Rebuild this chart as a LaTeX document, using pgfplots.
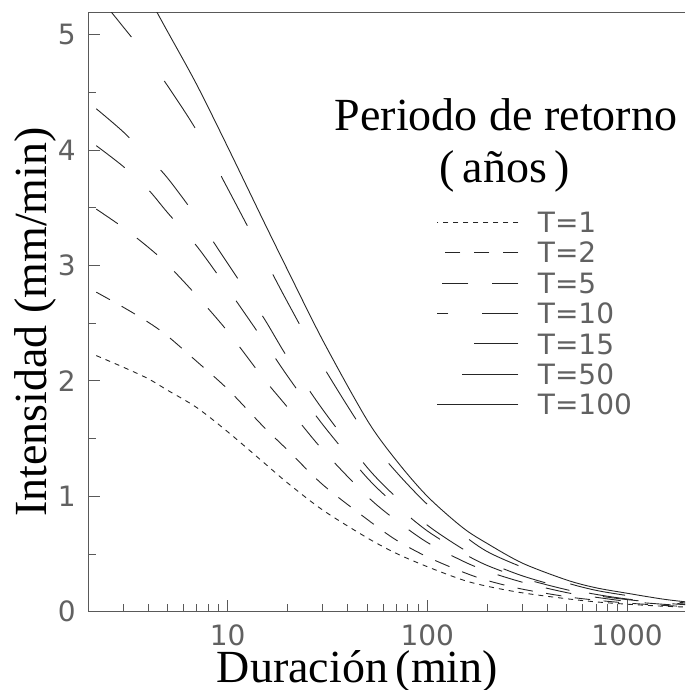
\documentclass[border=0pt]{standalone}
\usepackage{pgfplots}
\pgfplotsset{compat=1.18}
\usepackage{fontspec}
\setmainfont{Liberation Serif}
\newfontfamily\tickfont{DejaVu Sans}
\begin{document}
\begin{tikzpicture}
\begin{axis}[
  scale only axis, width=597pt, height=598.7pt,
  xmode=log, xmin=2, xmax=1950, ymin=0, ymax=5.19,
  axis x line*=box, axis y line*=left,
  xtick pos=left, ytick pos=left,
  axis line style={black!65, line width=1pt},
  xtick={10,100,1000}, xticklabels={10,100,1000},
  minor xtick={3,4,5,6,7,8,9,20,30,40,50,60,70,80,90,200,300,400,500,600,700,800,900},
  ytick={0,1,2,3,4,5}, yticklabels={0,1,2,3,4,5},
  minor ytick={0.5,1.5,2.5,3.5,4.5},
  tick align=inside,
  major tick length=12pt, minor tick length=8pt,
  every tick/.style={black!65, line width=1pt},
  ticklabel style={font=\tickfont\fontsize{28}{30}\selectfont, text=black!62, inner sep=0pt},
  xticklabel style={yshift=-13pt},
  yticklabel style={xshift=-12pt},
  legend style={at={(axis description cs:0.5846,0.6676)}, anchor=north west,
    draw=none, fill=none, inner sep=0pt, outer sep=0pt,
    font=\tickfont\fontsize{28}{30}\selectfont, text=black!62,
    row sep=10pt, column sep=19pt,
    nodes={inner sep=0pt, text height=20.4pt, text depth=0pt}},
  legend cell align=left,
  legend image code/.code={\draw[#1] (81pt,0pt) -- (0pt,0pt);},
]
\addplot[smooth, black!85, line width=0.9pt, dash pattern=on 5pt off 5pt] coordinates {
(2.2,2.22)(3,2.12)(4,2.02)(5,1.92)(7,1.77)(10,1.56)(15,1.30)(20,1.115)(30,0.88)(50,0.64)(70,0.505)(100,0.39)(150,0.276)(200,0.22)(300,0.163)(500,0.112)(700,0.085)(1000,0.065)(1500,0.048)(2000,0.04)};
\addlegendentry{T=1}
\addplot[smooth, black!85, line width=0.9pt, dash pattern=on 15.5pt off 13.5pt] coordinates {
(2.2,2.77)(3,2.64)(4,2.51)(5,2.39)(7,2.17)(10,1.93)(15,1.61)(20,1.40)(30,1.10)(50,0.80)(70,0.62)(100,0.475)(150,0.345)(200,0.27)(300,0.195)(500,0.13)(700,0.10)(1000,0.075)(1500,0.055)(2000,0.045)};
\addlegendentry{T=2}
\addplot[smooth, black!85, line width=0.9pt, dash pattern=on 26pt off 24pt] coordinates {
(2.2,3.49)(3,3.33)(4,3.16)(5,3.01)(7,2.74)(10,2.43)(15,2.03)(20,1.77)(30,1.40)(50,1.00)(70,0.79)(100,0.60)(150,0.44)(200,0.35)(300,0.255)(500,0.165)(700,0.125)(1000,0.09)(1500,0.065)(2000,0.05)};
\addlegendentry{T=5}
\addplot[smooth, black!85, line width=0.9pt, dash pattern=on 36pt off 34pt] coordinates {
(2.2,4.04)(3,3.86)(4,3.66)(5,3.46)(7,3.17)(10,2.80)(15,2.36)(20,2.04)(30,1.62)(50,1.16)(70,0.92)(100,0.70)(150,0.51)(200,0.40)(300,0.29)(500,0.19)(700,0.14)(1000,0.105)(1500,0.075)(2000,0.06)};
\addlegendentry{T=10}
\addplot[smooth, black!85, line width=0.9pt, dash pattern=on 44pt off 45pt] coordinates {
(2.2,4.36)(3,4.16)(4,3.94)(5,3.76)(7,3.42)(10,3.02)(15,2.56)(20,2.20)(30,1.75)(50,1.25)(70,0.99)(100,0.75)(150,0.545)(200,0.43)(300,0.31)(500,0.20)(700,0.15)(1000,0.11)(1500,0.08)(2000,0.065)};
\addlegendentry{T=15}
\addplot[smooth, black!85, line width=0.9pt, dash pattern=on 56pt off 55pt] coordinates {
(2.2,5.36)(3,5.07)(4,4.80)(5,4.56)(7,4.17)(10,3.67)(15,3.09)(20,2.68)(30,2.13)(50,1.52)(70,1.21)(100,0.93)(150,0.67)(200,0.52)(300,0.385)(500,0.25)(700,0.185)(1000,0.14)(1500,0.095)(2000,0.075)};
\addlegendentry{T=50}
\addplot[smooth, black!85, line width=0.9pt] coordinates {
(2.2,6.05)(3,5.67)(4,5.33)(5,5.03)(7,4.57)(10,4.03)(15,3.40)(20,2.96)(30,2.35)(50,1.66)(70,1.31)(100,1.0)(150,0.73)(200,0.59)(300,0.42)(500,0.274)(700,0.207)(1000,0.16)(1500,0.11)(2000,0.084)};
\addlegendentry{T=100}
\end{axis}
\coordinate (SW) at (current axis.south west);
\node[anchor=base, inner sep=0pt] at ([shift={(269.5pt,-70.8pt)}]SW) {\fontsize{46}{50}\selectfont Duración\,(min)};
\node[anchor=base, inner sep=0pt, rotate=90] at ([shift={(-41pt,289.7pt)}]SW) {\fontsize{46}{50}\selectfont Intensidad (mm/min)};
\node[anchor=base, inner sep=0pt] at ([shift={(418pt,480.7pt)}]SW) {\fontsize{46}{50}\selectfont Periodo de retorno};
\node[anchor=base, inner sep=0pt] at ([shift={(417pt,428.7pt)}]SW) {\fontsize{46}{50}\selectfont (\,años\,)};
\pgfresetboundingbox
\path[use as bounding box] ([shift={(-88pt,-78.3pt)}]current axis.south west) rectangle ([shift={(0pt,13pt)}]current axis.north east);
\end{tikzpicture}
\end{document}
